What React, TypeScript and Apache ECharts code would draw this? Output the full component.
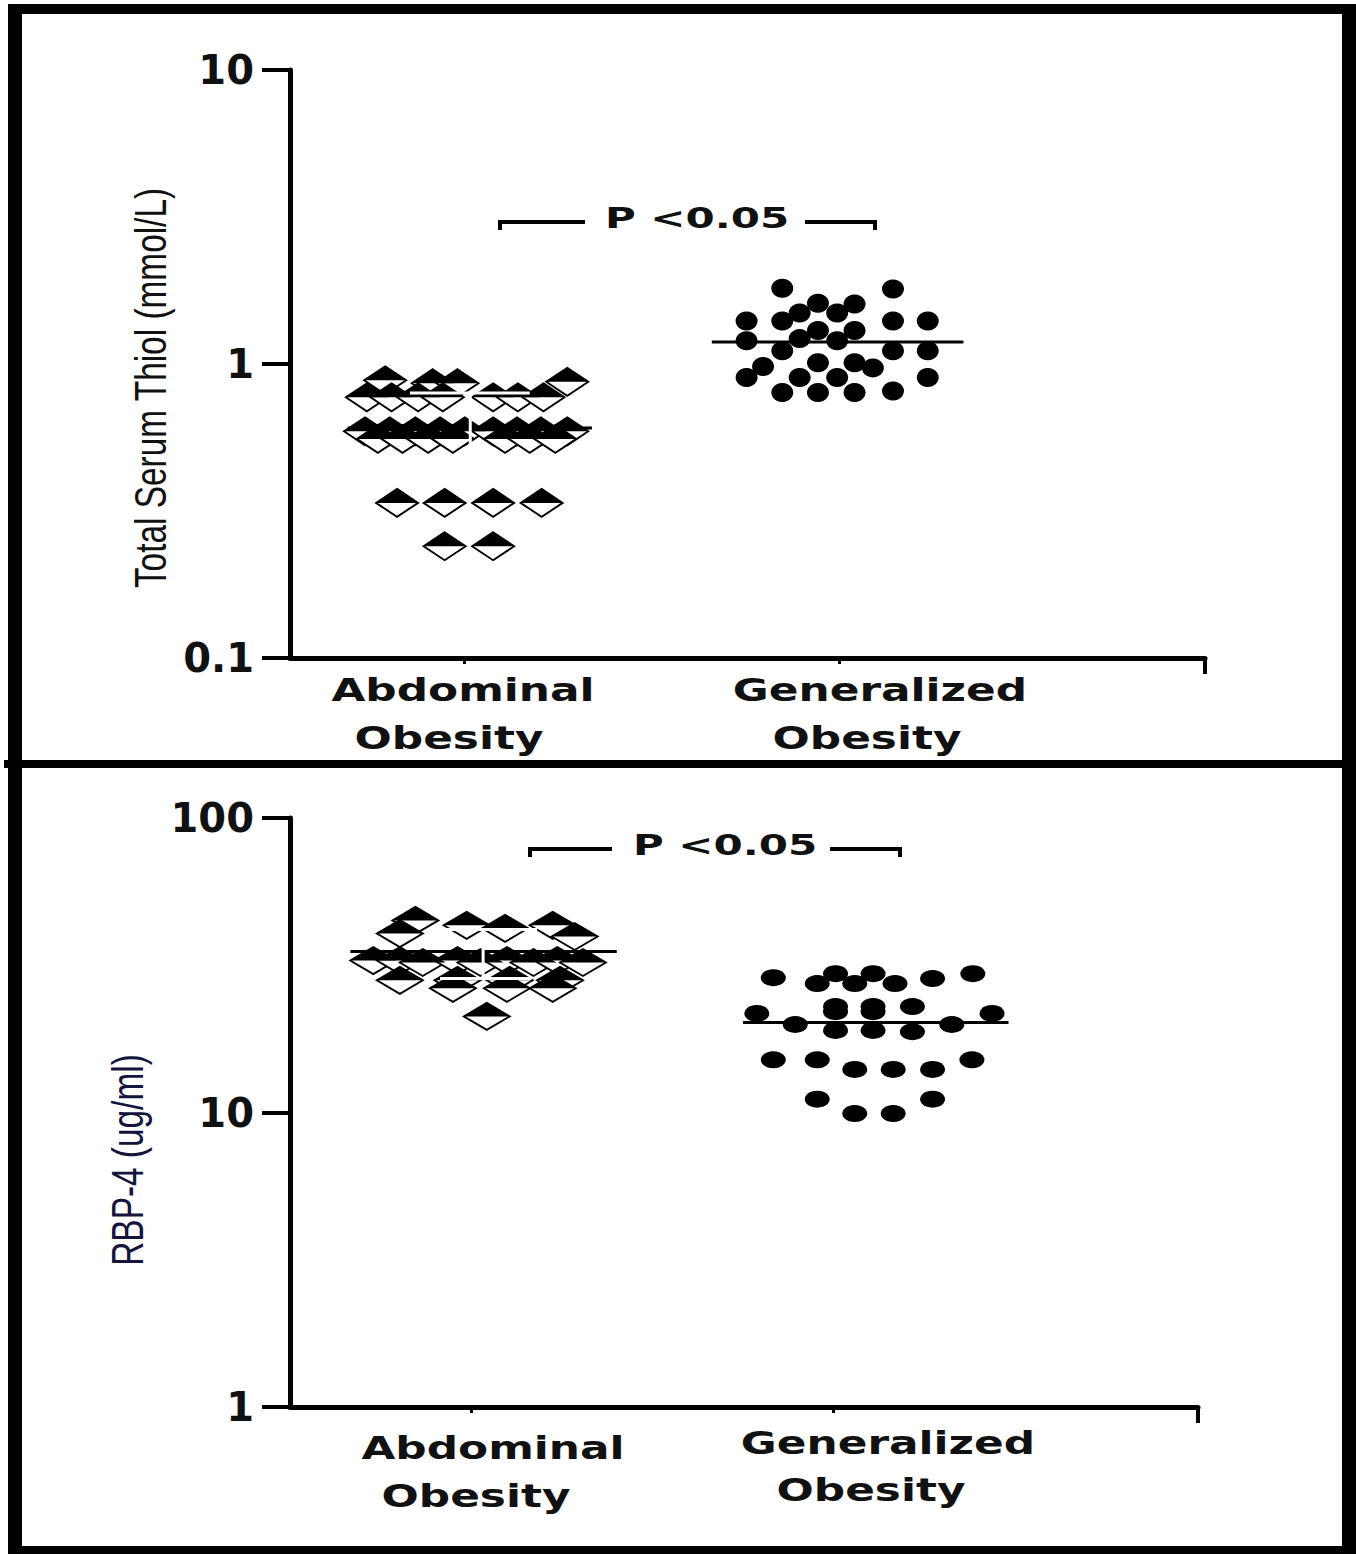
import React, { useEffect, useRef } from "react";
import * as echarts from "echarts";

// ---------- DATA ----------
const groupLabels = ["Abdominal", "Generalized"];
const groupSub = "Obesity";
const thiolTitle = "Total Serum Thiol (mmol/L)";
const rbpTitle = "RBP-4 (ug/ml)";
const pText = "P <0.05";

// Panel 1: Total serum thiol (mmol/L); x = horizontal jitter position (axis units)
const thiolAbdominal: [number, number][] = [
  [10.4, 0.88], [15.6, 0.86], [18.3, 0.86], [30.3, 0.87],
  [8.4, 0.77], [11.1, 0.77], [14.0, 0.77], [16.7, 0.77], [22.2, 0.77], [24.9, 0.77], [27.7, 0.77],
  [8.2, 0.59], [10.9, 0.59], [13.7, 0.59], [16.4, 0.59], [19.1, 0.59], [22.2, 0.59], [24.8, 0.59], [27.4, 0.59], [30.3, 0.59],
  [9.6, 0.556], [12.3, 0.556], [15.1, 0.556], [17.8, 0.556], [23.5, 0.556], [26.2, 0.556], [29.0, 0.556],
  [11.7, 0.337], [16.9, 0.337], [22.2, 0.337], [27.5, 0.337],
  [16.9, 0.24], [22.2, 0.24],
];
const thiolGeneralized: [number, number][] = [
  [53.8, 1.81], [65.9, 1.80],
  [57.7, 1.61], [61.7, 1.60],
  [55.7, 1.49], [59.8, 1.49],
  [49.9, 1.40], [53.8, 1.40], [65.9, 1.40], [69.7, 1.40],
  [57.7, 1.30], [61.7, 1.30],
  [55.7, 1.22], [59.8, 1.20], [49.9, 1.20],
  [53.8, 1.11], [65.9, 1.11], [69.7, 1.11],
  [51.7, 0.98], [57.7, 1.01], [61.7, 1.01], [63.7, 0.97],
  [49.9, 0.90], [55.7, 0.90], [59.8, 0.90], [69.7, 0.90],
  [53.8, 0.80], [57.7, 0.80], [61.7, 0.80], [65.9, 0.81],
];
const thiolMean = [0.606, 1.188];
const thiolMeanSpan = [[6.3, 33.0], [46.1, 73.6]];
const thiolSdBounds = [0.46, 0.797];
const thiolSdCapSpans = [[13.1, 26.2], [13.1, 26.2]];
const thiolSdX = 19.7;

// Panel 2: RBP-4 (ug/ml)
const rbpAbdominal: [number, number][] = [
  [13.7, 44.9], [19.3, 43.2], [23.5, 42.2], [28.7, 43.2], [12.0, 40.5], [31.1, 39.6],
  [9.1, 32.8], [12.0, 32.8], [14.5, 32.3], [18.3, 32.8], [20.8, 32.3], [23.7, 32.8], [26.6, 32.3], [29.2, 32.8], [32.0, 32.3],
  [12.0, 28.1], [18.3, 28.1], [24.0, 28.1], [29.5, 28.1],
  [17.8, 26.4], [23.7, 26.4], [28.7, 26.4],
  [21.5, 21.2],
];
const rbpGeneralized: [number, number][] = [
  [52.8, 28.7], [57.6, 27.4], [59.6, 29.6], [61.7, 27.4], [63.7, 29.6], [66.1, 27.4], [70.2, 28.5], [74.6, 29.6],
  [51.0, 21.7], [59.6, 22.9], [63.7, 22.9], [68.0, 22.9], [76.7, 21.7], [59.6, 22.0], [63.7, 22.0],
  [55.2, 19.9], [59.6, 19.0], [63.7, 19.0], [68.0, 18.8], [72.3, 19.9],
  [52.8, 15.1], [57.6, 15.1], [61.7, 14.0], [65.9, 14.0], [70.2, 14.0], [74.5, 15.1],
  [57.6, 11.1], [61.7, 9.92], [65.9, 9.92], [70.2, 11.1],
];
const rbpMean = [35.2, 20.2];
const rbpMeanSpan = [[6.6, 35.7], [49.5, 78.5]];
const rbpSdBounds = [28.5, 41.8];
const rbpSdCapSpans = [[16.4, 26.4], [15.6, 27.0]];
const rbpSdX = 21.1;

const thiolRange = [0.1, 10];
const rbpRange = [1, 100];
const xRangeTop = [0, 100];
const xRangeBottom = [0, 99.2];
const catTickTop = [19.0, 60.0];
const catTickBottom = [19.8, 59.3];

// ---------- helpers ----------
const TRI = "path://M0,10 L10,0 L20,10 Z";

function diamondSeries(data: [number, number][], xi: number, yi: number, size: number[]) {
  return [
    {
      type: "scatter", xAxisIndex: xi, yAxisIndex: yi, data, symbol: "diamond",
      symbolSize: size, silent: true,
      itemStyle: { color: "#ffffff", borderColor: "#000000", borderWidth: 2, opacity: 1 },
    },
    {
      type: "scatter", xAxisIndex: xi, yAxisIndex: yi, data, symbol: TRI,
      symbolSize: [size[0], size[1] / 2], symbolOffset: [0, -size[1] / 4], silent: true,
      itemStyle: { color: "#000000", opacity: 1 },
    },
  ];
}

function dotSeries(data: [number, number][], xi: number, yi: number, size: number[]) {
  return {
    type: "scatter", xAxisIndex: xi, yAxisIndex: yi, data, symbol: "circle",
    symbolSize: size, silent: true, itemStyle: { color: "#000000", opacity: 1 },
  };
}

function seg(xi: number, yi: number, pts: number[][], color: string, width: number) {
  return {
    type: "line", xAxisIndex: xi, yAxisIndex: yi, data: pts, symbol: "none", silent: true,
    lineStyle: { color, width }, z: 5,
  };
}

function statSeries(xi: number, yi: number, means: number[], spans: number[][], sd: number[], caps: number[][], sdX: number) {
  const out: any[] = [];
  means.forEach((m, i) => out.push(seg(xi, yi, [[spans[i][0], m], [spans[i][1], m]], "#000000", 3)));
  out.push(seg(xi, yi, [[sdX, sd[0]], [sdX, sd[1]]], "#ffffff", 3));
  out.push(seg(xi, yi, [[caps[0][0], sd[0]], [caps[0][1], sd[0]]], "#ffffff", 3));
  out.push(seg(xi, yi, [[caps[1][0], sd[1]], [caps[1][1], sd[1]]], "#ffffff", 3));
  return out;
}

function xAxes(gridIndex: number, range: number[], catTicks: number[]) {
  return [
    {
      type: "value", gridIndex, min: range[0], max: range[1],
      position: "bottom",
      axisLine: { show: true, lineStyle: { color: "#000", width: 5 } },
      axisTick: { show: true, length: 16, customValues: [range[1]], lineStyle: { color: "#000", width: 4 } },
      axisLabel: { show: false }, splitLine: { show: false },
    },
    {
      type: "value", gridIndex, min: range[0], max: range[1], position: "bottom",
      axisLine: { show: false },
      axisTick: { show: true, length: 6, customValues: catTicks, lineStyle: { color: "#000", width: 3 } },
      axisLabel: { show: false }, splitLine: { show: false },
    },
  ];
}

function yAxis(gridIndex: number, range: number[]) {
  return {
    type: "log", logBase: 10, gridIndex, min: range[0], max: range[1],
    axisLine: { show: true, lineStyle: { color: "#000", width: 5 } },
    axisTick: { show: true, length: 28, lineStyle: { color: "#000", width: 4 } },
    minorTick: { show: false },
    axisLabel: {
      show: true, margin: 36, color: "#111", fontSize: 40, fontWeight: "bold",
      fontFamily: "DejaVu Sans",
    },
    splitLine: { show: false },
  };
}

const CAT_FONT = "bold 32px 'DejaVu Sans'";
const P_FONT = "bold 28px 'DejaVu Sans'";
const YT_FONT = "40px 'Liberation Sans'";

function catText(text: string, x: number, y: number) {
  return {
    type: "text", x, y, scaleX: 1.37, z: 10,
    style: { text, font: CAT_FONT, fill: "#111", textAlign: "center", textVerticalAlign: "middle" },
  };
}

function yTitle(text: string, x: number, y: number, color: string) {
  return {
    type: "text", x, y, rotation: Math.PI / 2, scaleX: 0.835, scaleY: 1.12, z: 10,
    style: { text, font: YT_FONT, fill: color, textAlign: "center", textVerticalAlign: "middle" },
  };
}

function bracket(x1: number, x2: number, y: number, gapL: number, gapR: number, tx: number) {
  return [
    { type: "polyline", z: 10, shape: { points: [[x1, y + 8], [x1, y], [gapL, y]] }, style: { stroke: "#000", lineWidth: 4, fill: null } },
    { type: "polyline", z: 10, shape: { points: [[gapR, y], [x2, y], [x2, y + 8]] }, style: { stroke: "#000", lineWidth: 4, fill: null } },
    {
      type: "text", x: tx, y: y - 4, scaleX: 1.5, z: 10,
      style: { text: pText, font: P_FONT, fill: "#111", textAlign: "center", textVerticalAlign: "middle" },
    },
  ];
}

export default function App() {
  const ref = useRef<HTMLDivElement>(null);
  useEffect(() => {
    if (!ref.current) return;
    const chart = echarts.init(ref.current, undefined, { renderer: "svg" });
    const option: any = {
      animation: false,
      backgroundColor: "#ffffff",
      grid: [
        { left: 290, top: 70, width: 915, height: 588 },
        { left: 290, top: 818, width: 908, height: 589 },
      ],
      xAxis: [...xAxes(0, xRangeTop, catTickTop), ...xAxes(1, xRangeBottom, catTickBottom)],
      yAxis: [yAxis(0, thiolRange), yAxis(1, rbpRange)],
      series: [
        ...diamondSeries(thiolAbdominal, 0, 0, [42, 28]),
        dotSeries(thiolGeneralized, 0, 0, [22, 19]),
        ...statSeries(0, 0, thiolMean, thiolMeanSpan, thiolSdBounds, thiolSdCapSpans, thiolSdX),
        ...diamondSeries(rbpAbdominal, 2, 1, [46, 27]),
        dotSeries(rbpGeneralized, 2, 1, [25, 17]),
        ...statSeries(2, 1, rbpMean, rbpMeanSpan, rbpSdBounds, rbpSdCapSpans, rbpSdX),
      ],
      graphic: [
        // frame
        { type: "rect", shape: { x: 8, y: 4, width: 14, height: 1550 }, style: { fill: "#000" } },
        { type: "rect", shape: { x: 8, y: 4, width: 1348, height: 10 }, style: { fill: "#000" } },
        { type: "rect", shape: { x: 1342, y: 4, width: 14, height: 1550 }, style: { fill: "#000" } },
        { type: "rect", shape: { x: 4, y: 760, width: 1352, height: 8 }, style: { fill: "#000" } },
        { type: "rect", shape: { x: 8, y: 1546, width: 1348, height: 8 }, style: { fill: "#000" } },
        // titles
        yTitle(thiolTitle, 150, 388, "#111"),
        yTitle(rbpTitle, 127, 1160, "#14143c"),
        // category labels
        catText(groupLabels[0], 463, 690),
        catText(groupSub, 449, 738),
        catText(groupLabels[1], 880, 690),
        catText(groupSub, 867, 738),
        catText(groupLabels[0], 493, 1448),
        catText(groupSub, 476, 1496),
        catText(groupLabels[1], 888, 1443),
        catText(groupSub, 871, 1490),
        // significance brackets
        ...bracket(500, 875, 222, 585, 805, 697),
        ...bracket(530, 900, 849, 612, 830, 725),
      ],
    };
    chart.setOption(option);
    return () => chart.dispose();
  }, []);
  return (
    <div
      ref={ref}
      style={{ position: "absolute", left: 0, top: 0, width: 1356, height: 1554, background: "#fff" }}
    />
  );
}
